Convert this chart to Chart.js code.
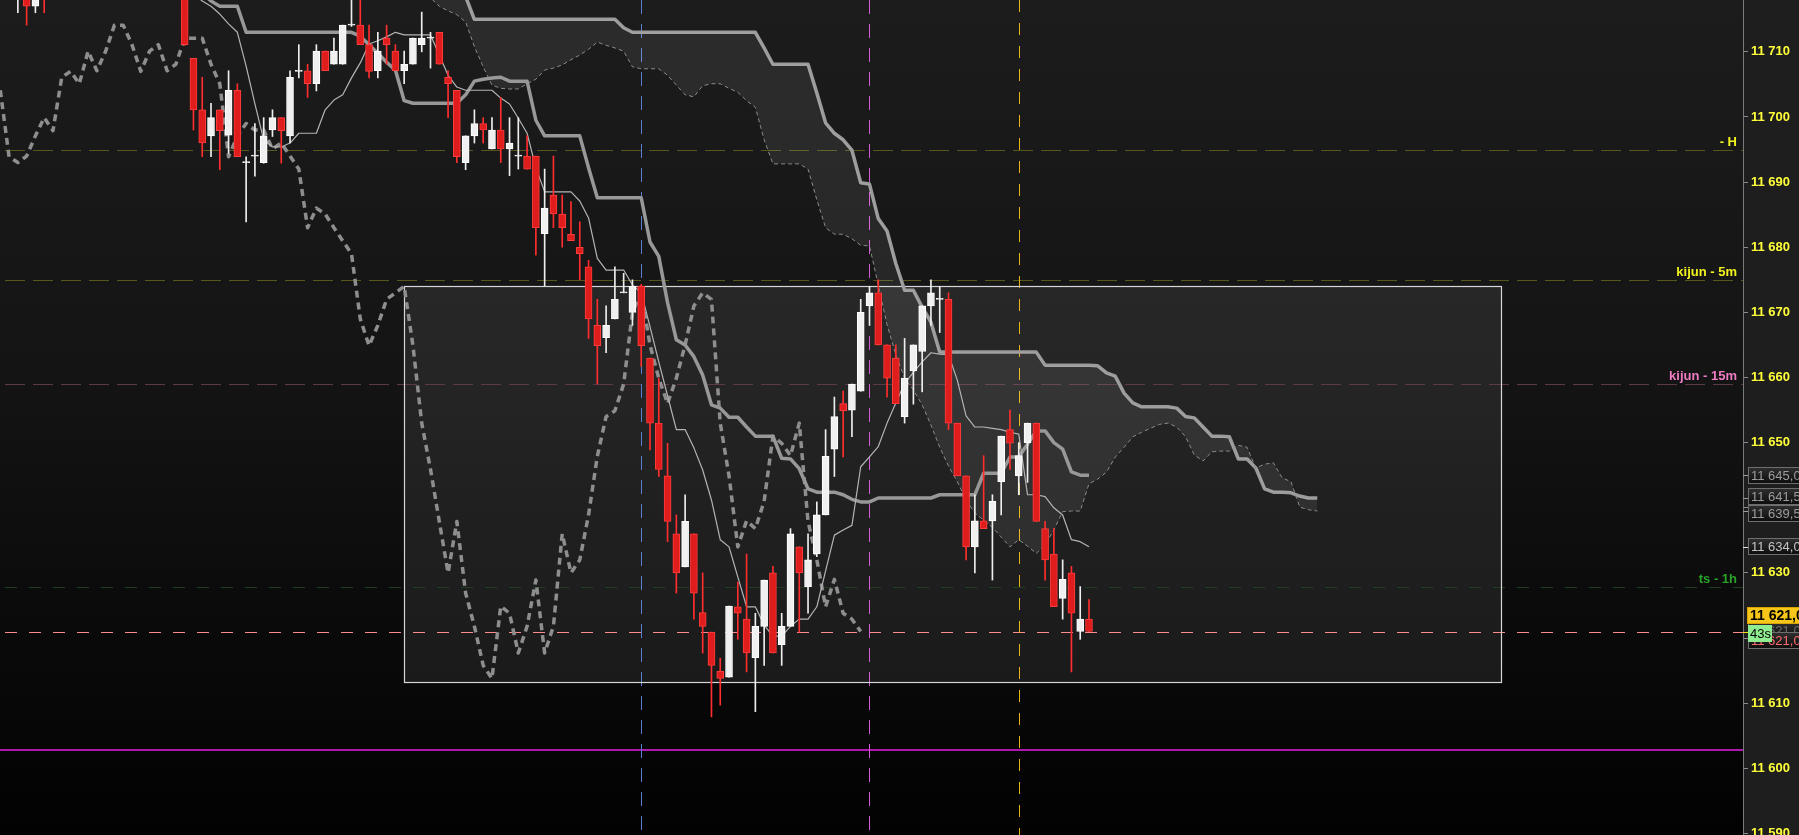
<!DOCTYPE html>
<html>
<head>
<meta charset="utf-8">
<title>Ichimoku 1m</title>
<script src="https://cdn.jsdelivr.net/npm/chart.js"></script>
<style>
  html, body { margin: 0; padding: 0; background: #1e1e1e; overflow: hidden; }
  #chart { display: block; }
</style>
</head>
<body>
<canvas id="chart" width="1799" height="835"></canvas>
<script>
// candles, bar index 2..124 (null = bar sits above the visible price range)
const candleStart = 2;
const opens = [
  11719.0, 11721.0, 11717.0, 11722.0,
  null, null, null, null, null, null, null, null, null, null, null, null, null, null, null,
  11722.0, 11709.0, 11701.1, 11697.1, 11701.1, 11697.2, 11704.1, 11693.0, 11694.0, 11693.0,
  11698.0, 11699.9, 11697.1, 11707.0, 11707.1, 11705.1, 11710.1, 11708.1, 11708.1, 11714.1,
  11714.1, 11711.1, 11707.1, 11712.1, 11710.1, 11707.1, 11708.1, 11711.1, 11712.1, 11713.0,
  11706.1, 11704.1, 11693.0, 11697.1, 11699.0, 11695.1, 11698.0, 11695.1, 11694.0, 11694.0,
  11694.0, 11682.1, 11688.0, 11685.1, 11682.0, 11680.0, 11677.0, 11668.0, 11666.1, 11669.0,
  11673.0, 11670.0, 11674.0, 11663.0, 11653.0, 11644.9, 11636.0, 11630.9, 11636.0, 11623.9,
  11620.9, 11614.9, 11614.0, 11624.8, 11622.9, 11617.0, 11621.8, 11630.0, 11619.0, 11621.8,
  11634.0, 11627.9, 11632.9, 11638.9, 11649.0, 11656.0, 11655.0, 11657.9, 11671.0, 11673.0,
  11665.0, 11663.0, 11654.0, 11661.0, 11664.0, 11671.0, 11672.0, 11672.0, 11653.0, 11644.9,
  11634.0, 11638.0, 11638.0, 11644.0, 11652.0, 11644.9, 11650.0, 11653.0, 11636.8, 11632.9,
  11626.1, 11630.0, 11621.0, 11622.9
];
const highs = [
  11723.0, 11723.0, 11722.0, 11724.0,
  null, null, null, null, null, null, null, null, null, null, null, null, null, null, null,
  11724.0, 11709.0, 11706.1, 11702.1, 11701.1, 11707.1, 11705.1, 11693.9, 11699.0, 11699.9,
  11701.1, 11699.9, 11707.1, 11711.1, 11708.1, 11711.1, 11710.1, 11712.1, 11714.1, 11718.5,
  11719.0, 11714.1, 11713.0, 11714.1, 11711.1, 11710.1, 11712.1, 11716.1, 11713.0, 11713.0,
  11707.1, 11704.1, 11697.1, 11701.1, 11699.9, 11699.9, 11703.0, 11699.9, 11699.9, 11697.1,
  11694.0, 11692.0, 11694.0, 11688.0, 11687.0, 11683.9, 11678.0, 11672.0, 11671.0, 11677.0,
  11676.0, 11675.0, 11674.3, 11663.0, 11659.9, 11649.9, 11638.9, 11642.0, 11636.0, 11630.0,
  11620.9, 11616.9, 11624.9, 11628.6, 11632.9, 11623.8, 11628.9, 11631.0, 11623.8, 11636.8,
  11634.0, 11636.0, 11640.9, 11652.0, 11657.0, 11657.9, 11659.0, 11672.0, 11674.0, 11675.0,
  11665.0, 11665.0, 11666.0, 11665.0, 11671.0, 11675.0, 11674.0, 11673.0, 11653.0, 11644.9,
  11642.0, 11648.0, 11642.0, 11651.0, 11655.0, 11650.0, 11653.0, 11653.0, 11637.9, 11636.8,
  11632.0, 11631.0, 11627.9, 11625.9
];
const lows = [
  11716.0, 11714.1, 11716.0, 11716.0,
  null, null, null, null, null, null, null, null, null, null, null, null, null, null, null,
  11711.0, 11698.0, 11693.9, 11693.9, 11691.9, 11694.4, 11693.9, 11683.9, 11690.9, 11692.9,
  11697.0, 11692.9, 11696.0, 11706.0, 11703.0, 11704.0, 11707.1, 11708.1, 11708.1, 11713.9,
  11711.1, 11706.0, 11706.0, 11708.1, 11707.1, 11705.1, 11708.1, 11710.0, 11707.5, 11708.1,
  11699.9, 11693.0, 11691.9, 11696.0, 11696.0, 11695.1, 11693.0, 11691.0, 11692.0, 11692.0,
  11678.8, 11674.1, 11683.0, 11680.0, 11681.0, 11675.0, 11666.0, 11659.0, 11663.8, 11669.0,
  11673.0, 11668.0, 11661.7, 11648.9, 11644.8, 11634.8, 11626.9, 11630.9, 11622.9, 11617.7,
  11607.9, 11609.7, 11614.0, 11619.8, 11614.8, 11608.7, 11615.8, 11617.7, 11615.8, 11621.8,
  11620.9, 11623.8, 11632.5, 11638.9, 11644.8, 11647.8, 11650.9, 11657.9, 11668.0, 11665.0,
  11657.0, 11656.0, 11653.0, 11655.9, 11657.8, 11668.0, 11666.9, 11652.0, 11644.9, 11632.0,
  11630.0, 11636.8, 11628.9, 11638.9, 11645.9, 11642.0, 11643.9, 11637.9, 11628.9, 11624.8,
  11622.9, 11614.8, 11619.8, 11621.0
];
const closes = [
  11722.0, 11717.0, 11720.0, 11719.5,
  null, null, null, null, null, null, null, null, null, null, null, null, null, null, null,
  11711.1, 11701.1, 11696.0, 11699.9, 11697.9, 11704.1, 11693.9, 11693.0, 11694.0, 11697.1,
  11699.9, 11697.9, 11706.1, 11707.0, 11705.1, 11710.1, 11707.1, 11710.1, 11714.1, 11714.1,
  11711.1, 11707.0, 11710.1, 11711.1, 11707.1, 11708.1, 11712.1, 11712.1, 11712.1, 11708.1,
  11705.1, 11693.9, 11697.1, 11699.0, 11698.0, 11698.0, 11695.1, 11696.0, 11694.0, 11692.0,
  11683.0, 11686.0, 11685.1, 11683.0, 11681.0, 11679.0, 11669.0, 11664.9, 11668.0, 11672.0,
  11673.0, 11674.0, 11664.9, 11653.0, 11645.9, 11637.9, 11630.0, 11637.9, 11626.9, 11621.8,
  11615.8, 11613.8, 11624.9, 11623.8, 11617.7, 11621.8, 11628.9, 11617.7, 11621.8, 11636.0,
  11630.0, 11632.0, 11638.9, 11647.9, 11654.0, 11654.9, 11659.0, 11670.0, 11673.0, 11665.0,
  11659.9, 11656.0, 11659.9, 11665.0, 11671.0, 11673.0, 11672.0, 11653.0, 11644.9, 11634.0,
  11638.0, 11636.8, 11641.0, 11651.0, 11649.9, 11648.0, 11653.0, 11637.9, 11632.0, 11624.8,
  11629.0, 11623.8, 11622.9, 11621.0
];

// tenkan-sen, bars 22..124
const tenkanStart = 22;
const tenkan = [
  11719.0, 11717.8, 11717.0, 11715.8, 11714.3, 11713.0, 11707.8, 11702.0, 11696.5, 11695.4,
  11695.4, 11696.0, 11697.5, 11697.5, 11697.5, 11701.1, 11702.6, 11703.4, 11706.0, 11708.3,
  11711.2, 11711.7, 11712.3, 11713.0, 11712.6, 11712.6, 11712.6, 11712.6, 11709.5, 11706.4,
  11704.6, 11704.1, 11704.1, 11704.1, 11704.1, 11702.9, 11702.0, 11699.8, 11697.5, 11692.2,
  11688.5, 11688.5, 11688.5, 11688.5, 11687.1, 11684.5, 11678.3, 11676.5, 11676.5, 11676.5,
  11674.2, 11673.0, 11667.8, 11662.4, 11657.2, 11652.0, 11652.0, 11649.2, 11645.8, 11641.2,
  11635.1, 11634.0, 11629.4, 11624.8, 11624.8, 11622.0, 11620.3, 11620.3, 11621.8, 11622.9,
  11622.9, 11624.8, 11630.3, 11635.8, 11636.6, 11637.3, 11646.3, 11647.8, 11649.4, 11653.0,
  11656.1, 11659.1, 11660.8, 11662.4, 11663.8, 11663.6, 11663.5, 11659.6, 11654.1, 11652.4,
  11652.4, 11652.2, 11652.0, 11651.6, 11651.3, 11642.0, 11642.0, 11641.7, 11640.0, 11638.9,
  11635.1, 11634.8, 11634.0
];

// kijun-sen, bars 23..124
const kijunStart = 23;
const kijun = [
  11719.0, 11717.8, 11717.0, 11717.0, 11717.0, 11713.0, 11713.0, 11713.0, 11713.0, 11713.0,
  11713.0, 11713.0, 11713.0, 11713.0, 11713.0, 11713.0, 11713.0, 11713.0, 11712.4, 11711.1,
  11709.8, 11708.4, 11707.2, 11702.5, 11702.1, 11702.1, 11702.1, 11702.1, 11702.1, 11702.1,
  11703.4, 11705.5, 11705.8, 11706.0, 11706.1, 11705.5, 11705.5, 11705.5, 11699.5, 11697.1,
  11697.1, 11697.1, 11697.1, 11697.1, 11692.2, 11687.6, 11687.6, 11687.6, 11687.6, 11687.6,
  11687.6, 11680.8, 11678.6, 11671.5, 11665.8, 11665.0, 11663.2, 11660.4, 11655.8, 11655.3,
  11653.9, 11653.9, 11652.4, 11651.0, 11651.0, 11651.0, 11647.6, 11647.5, 11646.0, 11642.9,
  11642.4, 11642.4, 11642.4, 11642.0, 11641.3, 11640.9, 11640.9, 11641.5, 11641.5, 11641.5,
  11641.5, 11641.5, 11641.5, 11641.5, 11642.0, 11642.0, 11642.0, 11642.0, 11642.0, 11645.3,
  11645.3, 11645.3, 11647.8, 11647.8, 11649.8, 11651.8, 11651.8, 11650.0, 11649.0, 11645.5,
  11645.0, 11645.0
];

// senkou spans (already shifted 26 bars ahead), bars 48..150
const spanStart = 48;
const spanA = [
  11719.5, 11718.3, 11717.0, 11716.3, 11715.7, 11714.6, 11710.8, 11707.7, 11704.9, 11704.4,
  11704.3, 11704.3, 11705.1, 11705.8, 11707.2, 11707.5, 11708.0, 11708.8, 11709.5, 11710.4,
  11711.5, 11711.0, 11710.6, 11710.1, 11707.7, 11707.4, 11707.4, 11707.4, 11706.4, 11704.9,
  11703.4, 11703.1, 11704.8, 11705.1, 11705.1, 11704.4, 11703.8, 11702.5, 11701.5, 11696.5,
  11692.8, 11692.8, 11692.8, 11692.8, 11692.0, 11687.3, 11683.0, 11682.0, 11682.0, 11681.3,
  11680.3, 11680.2, 11674.2, 11668.1, 11663.5, 11659.9, 11658.1, 11655.8, 11652.7, 11649.3,
  11646.4, 11644.0, 11641.2, 11639.2, 11638.1, 11637.0, 11635.5, 11634.0, 11635.1, 11634.1,
  11633.0, 11634.3, 11636.6, 11639.4, 11639.5, 11639.5, 11643.7, 11644.4, 11645.5, 11647.8,
  11649.3, 11650.9, 11651.6, 11652.2, 11652.8, 11653.0, 11652.4, 11650.9, 11648.1, 11647.2,
  11648.6, 11648.7, 11648.7, 11649.6, 11649.3, 11646.1, 11646.7, 11646.9, 11644.6, 11644.0,
  11640.1, 11639.7, 11639.5
];
const spanB = [
  11722.0, 11722.0, 11722.0, 11722.0, 11720.0, 11718.5, 11715.0, 11715.0, 11715.0, 11715.0,
  11715.0, 11715.0, 11715.0, 11715.0, 11715.0, 11715.0, 11715.0, 11715.0, 11715.0, 11715.0,
  11715.0, 11715.0, 11715.0, 11713.7, 11713.0, 11713.0, 11713.0, 11713.0, 11713.0, 11713.0,
  11713.0, 11713.0, 11713.0, 11713.0, 11713.0, 11713.0, 11713.0, 11713.0, 11713.0, 11710.6,
  11708.1, 11708.1, 11708.1, 11708.1, 11708.1, 11703.7, 11699.1, 11697.5, 11696.5, 11694.9,
  11689.9, 11689.7, 11684.4, 11682.5, 11677.5, 11673.4, 11673.4, 11670.8, 11668.5, 11663.9,
  11663.9, 11663.9, 11663.9, 11663.9, 11663.9, 11663.9, 11663.9, 11663.9, 11663.9, 11663.9,
  11663.9, 11661.9, 11661.9, 11661.9, 11661.9, 11661.9, 11661.9, 11661.8, 11660.7, 11660.2,
  11657.6, 11656.1, 11655.5, 11655.5, 11655.5, 11655.5, 11655.3, 11654.0, 11653.8, 11652.4,
  11651.0, 11651.0, 11650.9, 11647.5, 11647.5, 11646.1, 11642.9, 11642.4, 11642.4, 11642.3,
  11641.8, 11641.5, 11641.5
];

// chikou span: close plotted 26 bars back
const chikouShift = 26;

// horizontal levels
const levelNames = ['- H', 'kijun - 5m', 'kijun - 15m', 'ts - 1h'];
const levelPrices = [11695.0, 11674.9, 11659.0, 11627.8];
const supportPrice = 11602.8;
// vertical session markers (bar index)
const markerBars = [73, 99, 116];
// range box (bars and prices)
const boxBars = [46, 171];
const boxPrices = [11674.05, 11613.2];
const countdown = '43s';

const levelStyle = [
  { line: '#57571c', text: '#f2f21e', dash: [20, 8] },
  { line: '#57571c', text: '#f2f21e', dash: [20, 8] },
  { line: '#5c3a4b', text: '#f07cc4', dash: [20, 8] },
  { line: '#1f3f1f', text: '#27a327', dash: [12, 12] }
];
const markerStyle = [
  { color: '#5b7fd0', dash: [14, 10] },
  { color: '#d35cd3', dash: [14, 10] },
  { color: '#e9b21a', dash: [12, 11] }
];

const FONT = '"Liberation Sans", Arial, sans-serif';
const fmt = (v, dec) => v.toFixed(dec).replace('.', ',').replace(/^(\d+)(\d{3})/, '$1 $2');
const pts = (start, arr) => arr.map((v, i) => ({ x: start + i, y: v }));

const bodies = [], wicks = [], bodyFill = [], bodyEdge = [], wickColor = [];
opens.forEach((o, i) => {
  if (o === null) return;
  const x = candleStart + i;
  const up = closes[i] >= o;
  bodies.push({ x, y: [o, closes[i]] });
  wicks.push({ x, y: [lows[i], highs[i]] });
  bodyFill.push(up ? '#f0f0f0' : '#df1d1d');
  bodyEdge.push(up ? '#ffffff' : '#ff3d3d');
  wickColor.push(up ? '#eeeeee' : '#ff2d2d');
});
const chikou = closes.slice(chikouShift - candleStart).map((c, i) => ({ x: i, y: c }));
const lastClose = closes[closes.length - 1];

function dashedH(ctx, a, y, color, dash, width) {
  ctx.save();
  ctx.strokeStyle = color;
  ctx.lineWidth = width || 1;
  ctx.setLineDash(dash || []);
  ctx.lineDashOffset = -5;
  ctx.beginPath();
  ctx.moveTo(a.left, Math.round(y) + 0.5);
  ctx.lineTo(a.right, Math.round(y) + 0.5);
  ctx.stroke();
  ctx.restore();
}

function priceTag(ctx, x, yc, text, o) {
  const h = 17, top = Math.round(yc - h / 2);
  ctx.save();
  if (o.fill) {
    ctx.fillStyle = o.fill;
  } else {
    const g = ctx.createLinearGradient(0, top, 0, top + h);
    g.addColorStop(0, '#303030');
    g.addColorStop(1, '#0c0c0c');
    ctx.fillStyle = g;
  }
  ctx.fillRect(x, top, 70, h);
  ctx.strokeStyle = o.edge || '#6e6e6e';
  ctx.lineWidth = 1;
  ctx.strokeRect(x + 0.5, top + 0.5, 70, h - 1);
  ctx.fillStyle = o.color;
  ctx.font = o.font || ('13px ' + FONT);
  ctx.textBaseline = 'middle';
  ctx.fillText(text, x + 3, top + h / 2 + 1);
  ctx.restore();
}

const overlay = {
  id: 'overlay',
  beforeDraw(chart) {
    const { ctx, chartArea: a, width, height } = chart;
    ctx.save();
    ctx.fillStyle = '#1e1e1e';
    ctx.fillRect(0, 0, width, height);
    const g = ctx.createLinearGradient(0, a.top, 0, a.bottom);
    g.addColorStop(0, '#1c1c1c');
    g.addColorStop(0.45, '#141414');
    g.addColorStop(1, '#020202');
    ctx.fillStyle = g;
    ctx.fillRect(a.left, a.top, a.right - a.left, a.bottom - a.top);
    ctx.restore();
  },
  beforeDatasetsDraw(chart) {
    const { ctx, chartArea: a, scales: { x, y } } = chart;
    // range box
    const bx0 = x.getPixelForValue(boxBars[0]), bx1 = x.getPixelForValue(boxBars[1]);
    const by0 = y.getPixelForValue(boxPrices[0]), by1 = y.getPixelForValue(boxPrices[1]);
    ctx.save();
    ctx.fillStyle = 'rgba(255,255,255,0.075)';
    ctx.fillRect(bx0, by0, bx1 - bx0, by1 - by0);
    ctx.restore();
    // levels
    levelPrices.forEach((p, i) => {
      dashedH(ctx, a, y.getPixelForValue(p), levelStyle[i].line, levelStyle[i].dash);
    });
    dashedH(ctx, a, y.getPixelForValue(lastClose), '#ff8c8c', [12, 12]);
    ctx.save();
    ctx.strokeStyle = '#e61ee6';
    ctx.lineWidth = 1.5;
    ctx.beginPath();
    const sy = y.getPixelForValue(supportPrice);
    ctx.moveTo(a.left, sy);
    ctx.lineTo(a.right, sy);
    ctx.stroke();
    ctx.restore();
    // vertical markers
    markerBars.forEach((b, i) => {
      const px = Math.round(x.getPixelForValue(b)) + 0.5;
      ctx.save();
      ctx.strokeStyle = markerStyle[i].color;
      ctx.setLineDash(markerStyle[i].dash);
      ctx.lineWidth = 1;
      ctx.beginPath();
      ctx.moveTo(px, a.top);
      ctx.lineTo(px, a.bottom);
      ctx.stroke();
      ctx.restore();
    });
    // box border
    ctx.save();
    ctx.strokeStyle = '#d6d6d6';
    ctx.lineWidth = 1.2;
    ctx.strokeRect(Math.round(bx0) + 0.5, Math.round(by0) + 0.5, Math.round(bx1 - bx0), Math.round(by1 - by0));
    ctx.restore();
  },
  afterDatasetsDraw(chart) {
    const { ctx, chartArea: a, scales: { y } } = chart;
    ctx.save();
    ctx.font = 'bold 13px ' + FONT;
    ctx.textAlign = 'right';
    ctx.textBaseline = 'alphabetic';
    levelPrices.forEach((p, i) => {
      ctx.fillStyle = levelStyle[i].text;
      ctx.fillText(levelNames[i], a.right - 6, y.getPixelForValue(p) - 4);
    });
    ctx.restore();
  },
  afterDraw(chart) {
    const { ctx, chartArea: a, scales: { y } } = chart;
    const x0 = a.right + 5;
    const tick = (v, color) => {
      const py = Math.round(y.getPixelForValue(v)) + 0.5;
      ctx.save();
      ctx.strokeStyle = color;
      ctx.beginPath();
      ctx.moveTo(a.right, py);
      ctx.lineTo(a.right + 5, py);
      ctx.stroke();
      ctx.restore();
    };
    // line end tags
    const ends = [
      { v: kijun[kijun.length - 1], color: '#9c9c9c', tick: '#9c9c9c' },
      { v: spanB[spanB.length - 1], color: '#9c9c9c', tick: '#9c9c9c' },
      { v: spanA[spanA.length - 1], color: '#9c9c9c', tick: '#9c9c9c' },
      { v: tenkan[tenkan.length - 1], color: '#c4c4c4', tick: '#e0e0e0' }
    ];
    ends.forEach(e => { e.y = y.getPixelForValue(e.v); });
    for (let i = 1; i < ends.length; i++) {
      const gap = ends[i].y - ends[i - 1].y;
      if (gap < 17) {
        ends[i - 1].y -= (17 - gap) / 2;
        ends[i].y += (17 - gap) / 2;
      }
    }
    ends.forEach(e => {
      tick(e.v, e.tick);
      priceTag(ctx, x0, e.y, fmt(e.v, 1), { color: e.color });
    });
    // last price tags
    const py = y.getPixelForValue(lastClose);
    tick(lastClose, '#f5e000');
    priceTag(ctx, x0, py - 1, fmt(lastClose, 1), { color: '#6c6c6c' });
    priceTag(ctx, x0, py + 8.5, fmt(lastClose, 1), { color: '#ff6d6d' });
    priceTag(ctx, x0 - 1, py - 16.5, fmt(lastClose, 1),
      { color: '#000000', fill: '#f6c619', edge: '#d9a400', font: 'bold 14px ' + FONT });
    ctx.save();
    ctx.fillStyle = '#90ec90';
    ctx.fillRect(x0, Math.round(py - 7), 24, 17);
    ctx.fillStyle = '#000000';
    ctx.font = '13px ' + FONT;
    ctx.textBaseline = 'middle';
    ctx.fillText(countdown, x0 + 2, Math.round(py - 7) + 9.5);
    ctx.restore();
  }
};

const lineBase = { type: 'line', pointRadius: 0, tension: 0, fill: false, borderJoinStyle: 'round' };

new Chart(document.getElementById('chart'), {
  type: 'bar',
  data: {
    datasets: [
      { ...lineBase, label: 'Senkou B', data: pts(spanStart, spanB), borderColor: '#9a9a9a', borderWidth: 3.5, order: 7 },
      { ...lineBase, label: 'Senkou A', data: pts(spanStart, spanA), borderColor: '#8a8a8a', borderWidth: 1,
        borderDash: [4, 3], fill: '-1', backgroundColor: 'rgba(255,255,255,0.075)', order: 6 },
      { ...lineBase, label: 'Chikou', data: chikou, borderColor: '#8e8e8e', borderWidth: 3.5, borderDash: [7, 5], order: 5 },
      { ...lineBase, label: 'Kijun', data: pts(kijunStart, kijun), borderColor: '#989898', borderWidth: 3.5, order: 4 },
      { ...lineBase, label: 'Tenkan', data: pts(tenkanStart, tenkan), borderColor: '#b4b4b4', borderWidth: 1.2, order: 3 },
      { type: 'bar', label: 'Wicks', data: wicks, backgroundColor: wickColor, barThickness: 1, grouped: false, order: 1 },
      { type: 'bar', label: 'Bodies', data: bodies, backgroundColor: bodyFill, borderColor: bodyEdge, borderWidth: 1,
        borderSkipped: false, barThickness: 7, minBarLength: 1, grouped: false, order: 0 }
    ]
  },
  options: {
    responsive: false,
    animation: false,
    devicePixelRatio: 1,
    layout: { padding: 0 },
    plugins: { legend: { display: false }, tooltip: { enabled: false } },
    scales: {
      x: { type: 'linear', min: -0.034, max: 198.49, display: false, offset: false, grid: { offset: false } },
      y: {
        type: 'linear',
        position: 'right',
        min: 11589.76,
        max: 11717.96,
        grid: { drawOnChartArea: false, tickLength: 5, color: '#8a8a8a' },
        border: { color: '#7a7a7a' },
        ticks: {
          stepSize: 10,
          includeBounds: false,
          padding: 3,
          color: '#ffff3a',
          font: { family: FONT, size: 13, weight: 'bold' },
          callback: v => fmt(v, 0)
        },
        afterFit: s => { s.width = 56; s.paddingTop = 0; s.paddingBottom = 0; }
      }
    }
  },
  plugins: [overlay]
});
</script>
</body>
</html>
